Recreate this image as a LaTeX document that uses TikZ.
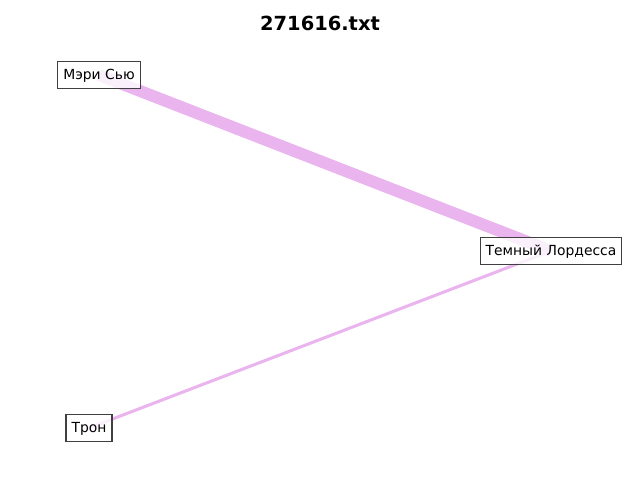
\documentclass[tikz,border=0pt]{standalone}
\usepackage{fontspec}
\setmainfont{DejaVu Sans}
\usetikzlibrary{calc}
\pgfdeclarelayer{back}
\pgfsetlayers{back,main}
\definecolor{edgepink}{HTML}{EAB4EE}
\definecolor{boxgray}{HTML}{404040}
\tikzset{personbox/.style={draw=boxgray,line width=.8pt,fill=white,fill opacity=.8,text opacity=1,
    font=\fontsize{10}{12}\selectfont,inner xsep=4pt,inner ysep=4.5pt,
    text height=1.5ex,text depth=.35ex}}

\begin{document}
\begin{tikzpicture}[x=.72pt,y=-.72pt]
\useasboundingbox (0,0) rectangle (640,480);

%title
\node[font=\fontsize{14}{16}\selectfont\bfseries] (title) at (320,23) {271616.txt};

%persons
\node[personbox] (mary) at (99,75) {Мэри Сью};
\node[personbox] (lord) at (551,251) {Темный Лордесса};
\node[personbox] (tron) at (89,428) {Трон};

%links
\begin{pgfonlayer}{back}
\draw[edgepink,line width=8.6pt] (mary.center) -- (lord.center);
\draw[edgepink,line width=2.2pt] (tron.center) -- (lord.center);
\end{pgfonlayer}

  \end{tikzpicture}
\end{document}
